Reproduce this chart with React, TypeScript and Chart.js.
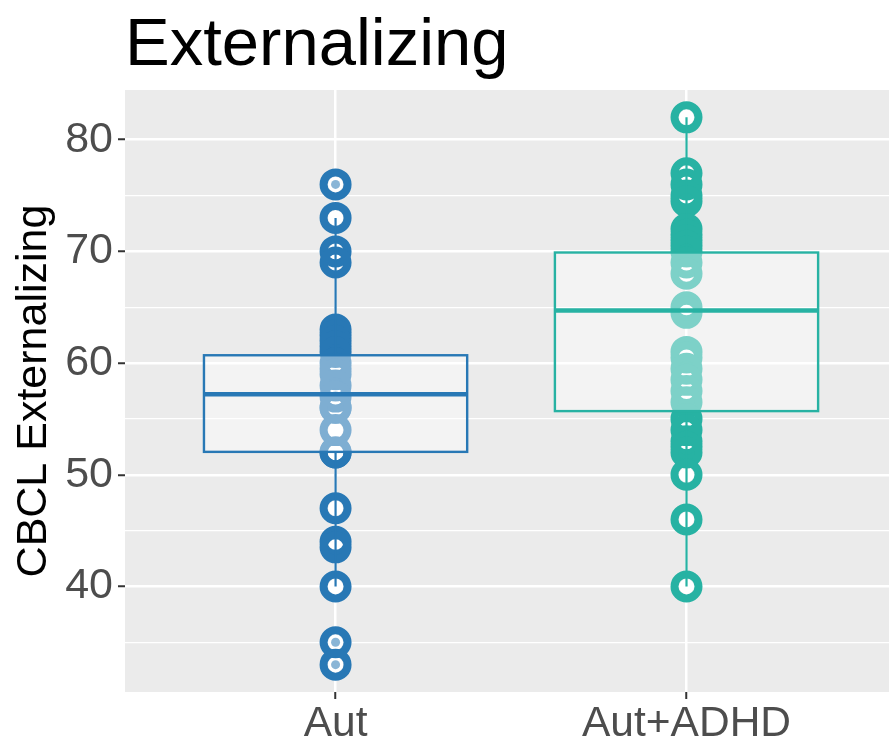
import React, { useEffect, useRef } from "react";
import { Chart, registerables } from "chart.js";
Chart.register(...registerables);

const chartTitle = "Externalizing";
const yAxisTitle = "CBCL Externalizing";
const categories = ["Aut", "Aut+ADHD"];

// individual scores per group
const autValues = [76, 73, 70, 69, 63, 62.5, 62, 61.5, 61, 60, 59.5, 59, 58, 57, 56, 56, 54, 52, 52, 47, 44, 43.5, 40, 35, 33];
const autAdhdValues = [82, 77, 76, 75, 74.5, 72, 71.5, 71, 70.5, 70, 69, 68, 65, 64.5, 61, 60.5, 59.5, 58.5, 57.5, 56.5, 55, 54, 53, 52.5, 52, 50, 46, 40];

// box statistics per group
const whiskerLow = [40, 40];
const q1 = [52.05, 55.7];
const medians = [57.2, 64.7];
const q3 = [60.7, 69.9];
const whiskerHigh = [73, 82];

const yGridTicks = [35, 40, 45, 50, 55, 60, 65, 70, 75, 80];
const yLabelTicks = [40, 50, 60, 70, 80];
const yMin = 30.55;
const yMax = 84.45;
const xMin = 0.4;
const xMax = 2.577;

const groupColors = ["#2878B5", "#27B2A3"];
const outlierColors = ["rgba(40,120,181,0.55)", "rgba(39,178,163,0.55)"];
const FONT = "'Liberation Sans', Arial, Helvetica, sans-serif";

const groups = [autValues, autAdhdValues];

export default function App() {
  const canvasRef = useRef<HTMLCanvasElement | null>(null);

  useEffect(() => {
    const canvas = canvasRef.current;
    if (!canvas) return;

    const datasets: any[] = [];
    groups.forEach((vals, i) => {
      datasets.push({
        label: categories[i] + " fill",
        data: vals.map((v) => ({ x: i + 1, y: v })),
        order: 3,
        pointRadius: 7.5,
        pointBackgroundColor: "#FFFFFF",
        pointBorderWidth: 0,
        pointStyle: "circle",
        showLine: false,
        clip: false,
      });
      datasets.push({
        label: categories[i],
        data: vals.map((v) => ({ x: i + 1, y: v })),
        order: 2,
        pointRadius: 12,
        pointBackgroundColor: "rgba(0,0,0,0)",
        pointBorderColor: groupColors[i],
        pointBorderWidth: 8,
        pointStyle: "circle",
        showLine: false,
        clip: false,
      });
      const outliers = vals
        .filter((v) => v < whiskerLow[i] || v > whiskerHigh[i])
        .map((v) => ({ x: i + 1, y: v }));
      datasets.push({
        label: categories[i] + " outliers",
        data: outliers,
        order: 1,
        pointRadius: 4.5,
        pointBackgroundColor: outlierColors[i],
        pointBorderWidth: 0,
        showLine: false,
        clip: false,
      });
    });

    const panelBg = {
      id: "panelBg",
      beforeDraw(chart: any) {
        const { ctx, chartArea: a } = chart;
        ctx.save();
        ctx.fillStyle = "#EBEBEB";
        ctx.fillRect(a.left, a.top, a.right - a.left, a.bottom - a.top);
        ctx.restore();
      },
    };

    const boxPlugin = {
      id: "boxPlugin",
      afterDatasetsDraw(chart: any) {
        const { ctx } = chart;
        const xs = chart.scales.x;
        const ys = chart.scales.y;
        ctx.save();
        for (let i = 0; i < categories.length; i++) {
          const cx = xs.getPixelForValue(i + 1);
          const x0 = xs.getPixelForValue(i + 1 - 0.375);
          const x1 = xs.getPixelForValue(i + 1 + 0.375);
          const yL = ys.getPixelForValue(whiskerLow[i]);
          const yH = ys.getPixelForValue(whiskerHigh[i]);
          const y1 = ys.getPixelForValue(q1[i]);
          const y3 = ys.getPixelForValue(q3[i]);
          const ym = ys.getPixelForValue(medians[i]);
          ctx.strokeStyle = groupColors[i];
          ctx.lineWidth = 2.2;
          ctx.beginPath();
          ctx.moveTo(cx, yH);
          ctx.lineTo(cx, y3);
          ctx.moveTo(cx, y1);
          ctx.lineTo(cx, yL);
          ctx.stroke();
          ctx.fillStyle = "rgba(255,255,255,0.4)";
          ctx.fillRect(x0, y3, x1 - x0, y1 - y3);
          ctx.lineWidth = 2.4;
          ctx.strokeRect(x0, y3, x1 - x0, y1 - y3);
          ctx.lineWidth = 4.5;
          ctx.beginPath();
          ctx.moveTo(x0, ym);
          ctx.lineTo(x1, ym);
          ctx.stroke();
        }
        ctx.restore();
      },
    };

    const titlePlugin = {
      id: "titlePlugin",
      afterDraw(chart: any) {
        const { ctx, chartArea } = chart;
        ctx.save();
        ctx.fillStyle = "#000000";
        ctx.font = `67px ${FONT}`;
        ctx.textAlign = "left";
        ctx.textBaseline = "alphabetic";
        ctx.fillText(chartTitle, chartArea.left, 65);
        ctx.restore();
      },
    };

    const chart = new Chart(canvas, {
      type: "scatter",
      data: { datasets },
      plugins: [panelBg, boxPlugin, titlePlugin],
      options: {
        animation: false,
        responsive: true,
        maintainAspectRatio: false,
        layout: { autoPadding: false, padding: { top: 90, left: 0, right: 0, bottom: 0 } },
        plugins: {
          legend: { display: false },
          tooltip: { enabled: false },
          title: { display: false },
        },
        scales: {
          x: {
            type: "linear",
            min: xMin,
            max: xMax,
            afterBuildTicks: (scale: any) => {
              scale.ticks = categories.map((_, i) => ({ value: i + 1 }));
            },
            afterFit: (scale: any) => {
              scale.height = 48;
            },
            ticks: {
              callback: (v: any) => categories[Math.round(Number(v)) - 1] ?? "",
              color: "#4D4D4D",
              font: { family: FONT, size: 42.5 },
              padding: 0,
              maxRotation: 0,
              autoSkip: false,
            },
            grid: {
              color: "#FFFFFF",
              lineWidth: 2.5,
              drawTicks: true,
              tickLength: 7,
              tickWidth: 2,
              tickColor: "#333333",
            },
            border: { display: false },
          },
          y: {
            type: "linear",
            min: yMin,
            max: yMax,
            afterBuildTicks: (scale: any) => {
              scale.ticks = yGridTicks.map((v) => ({ value: v }));
            },
            afterFit: (scale: any) => {
              scale.width = 125;
            },
            title: {
              display: true,
              text: yAxisTitle,
              color: "#000000",
              font: { family: FONT, size: 43 },
              padding: { top: 8, bottom: 0 },
            },
            ticks: {
              callback: (v: any) => (yLabelTicks.includes(Number(v)) ? String(v) : ""),
              color: "#4D4D4D",
              font: { family: FONT, size: 43 },
              padding: 5,
              autoSkip: false,
            },
            grid: {
              color: "#FFFFFF",
              lineWidth: (ctx: any) => (yLabelTicks.includes(ctx.tick?.value) ? 2.5 : 1.2),
              drawTicks: true,
              tickLength: 7,
              tickWidth: 2,
              tickColor: (ctx: any) => (yLabelTicks.includes(ctx.tick?.value) ? "#333333" : "rgba(0,0,0,0)"),
            },
            border: { display: false },
          },
        },
      },
    });

    return () => {
      chart.destroy();
    };
  }, []);

  return (
    <div style={{ position: "fixed", left: 0, top: 0, width: 889, height: 740, background: "#FFFFFF" }}>
      <canvas ref={canvasRef} />
    </div>
  );
}
